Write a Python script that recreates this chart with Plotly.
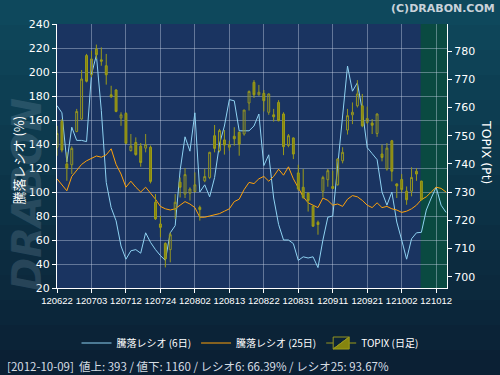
import plotly.graph_objects as go

# ---------------- data ----------------
dates = [
    "120622", "120625", "120626", "120627", "120628", "120629",
    "120702", "120703", "120704", "120705", "120706", "120709", "120710", "120711",
    "120712", "120713", "120717", "120718", "120719", "120720", "120723", "120724",
    "120725", "120726", "120727", "120730", "120731",
    "120801", "120802", "120803", "120806", "120807", "120808", "120809", "120810",
    "120813", "120814", "120815", "120816", "120817", "120820", "120821", "120822",
    "120823", "120824", "120827", "120828", "120829", "120830", "120831",
    "120903", "120904", "120905", "120906", "120907", "120910", "120911", "120912",
    "120913", "120914", "120918", "120919", "120920", "120921", "120924", "120925",
    "120926", "120927", "120928",
    "121001", "121002", "121003", "121004", "121005", "121009", "121010", "121011",
    "121012", "121015", "121016",
]

tick_labels = ["120622", "120703", "120712", "120724", "120802", "120813",
               "120822", "120831", "120911", "120921", "121002", "121012"]

ratio6 = [172, 166, 125, 154, 143, 143, 142, 198, 214, 168,
          108, 87, 76, 55, 44, 51, 52, 49, 66, 58,
          52, 47, 43, 66, 72, 118, 146, 134, 166, 100,
          106, 96, 112, 140, 155, 177, 176, 151, 151, 151,
          155, 165, 122, 131, 95, 73, 60, 60, 57, 43,
          46, 45, 46, 37, 60, 79, 80, 123, 160, 205,
          184, 191, 168, 137, 132, 127, 100, 89, 100, 75,
          60, 44, 61, 66, 66.39, 85, 95, 104, 89, 83]

ratio25 = [111, 106, 101, 113, 118, 123, 126, 128, 130, 129,
           131, 136, 123, 115, 104, 109, 104, 100, 104, 99,
           94, 88, 86, 85, 86, 89, 92, 90, 87, 79,
           79, 80, 81, 82, 84, 86, 92, 94, 102, 108,
           107, 111, 113, 109, 113, 119, 114, 121, 111, 104,
           96, 91, 89, 87, 95, 93, 89, 90, 88, 94,
           97, 96, 93, 89, 87, 91, 87, 88, 86, 85,
           83, 84, 86, 89, 93.67, 96, 100, 104, 103, 100]

topix_open = [745.9, 755.1, 740.0, 739.7, 751.5, 755.9, 778.4, 771.6, 780.7, 776.9,
              774.8, 764.5, 766.2, 756.3, 757.9, 744.7, 747.6, 746.3, 745.6, 745.9,
              726.4, 718.7, 711.8, 709.6, 723.7, 733.5, 729.3, 729.6, 730.2, 724.6,
              734.0, 735.2, 750.0, 744.7, 748.5, 745.9, 749.8, 751.2, 750.6, 761.6,
              768.9, 764.5, 765.0, 758.3, 757.4, 761.8, 757.7, 746.5, 749.2, 736.8,
              731.7, 729.6, 725.0, 719.3, 730.3, 734.4, 732.0, 732.6, 741.1, 752.0,
              757.4, 760.6, 760.6, 754.7, 754.5, 750.8, 743.5, 738.2, 748.2, 732.9,
              734.5, 730.3, 730.3, 737.4, 733.9]
topix_high = [753.5, 755.9, 744.1, 746.2, 759.5, 773.3, 779.0, 780.1, 782.3, 781.3,
              779.0, 767.7, 766.5, 758.3, 758.3, 750.6, 749.4, 747.4, 750.6, 746.5,
              729.3, 721.6, 712.2, 715.7, 729.3, 735.2, 738.5, 731.7, 737.0, 725.2,
              738.2, 744.3, 753.8, 752.4, 752.0, 748.2, 753.0, 751.5, 759.1, 766.0,
              769.7, 768.0, 766.2, 765.0, 759.5, 762.6, 758.3, 750.6, 749.4, 739.7,
              738.2, 729.9, 725.2, 719.9, 735.8, 738.2, 737.6, 742.1, 745.9, 759.5,
              761.8, 769.7, 764.8, 760.3, 755.9, 757.9, 746.8, 747.4, 748.5, 733.1,
              736.4, 732.0, 738.8, 738.5, 734.0]
topix_low = [742.9, 744.1, 734.0, 736.4, 751.2, 755.6, 768.9, 770.7, 777.2, 774.8,
             768.1, 763.4, 758.3, 753.5, 747.0, 744.4, 742.9, 739.0, 744.1, 733.1,
             720.1, 714.0, 703.3, 705.1, 720.5, 728.1, 727.9, 727.0, 729.9, 719.9,
             733.5, 734.6, 744.1, 744.1, 743.3, 744.7, 746.5, 742.9, 750.0, 758.9,
             763.4, 764.2, 758.6, 757.4, 755.0, 755.1, 743.1, 745.9, 741.7, 730.5,
             727.6, 723.1, 717.7, 714.9, 728.1, 731.9, 731.1, 732.3, 740.2, 750.4,
             754.1, 760.0, 753.0, 754.1, 750.6, 749.6, 740.9, 737.6, 733.8, 727.9,
             729.9, 725.5, 728.5, 734.0, 727.0]
topix_close = [750.8, 744.9, 738.5, 745.5, 758.6, 770.1, 769.3, 777.2, 778.7, 776.4,
               771.6, 763.8, 758.6, 757.4, 747.3, 746.3, 743.3, 740.5, 746.8, 733.8,
               720.5, 717.5, 706.3, 714.9, 726.4, 731.7, 736.2, 731.1, 732.6, 723.8,
               735.5, 744.1, 745.5, 751.8, 746.7, 746.8, 748.9, 747.0, 759.1, 765.7,
               764.5, 765.4, 762.4, 764.8, 756.7, 755.3, 746.1, 750.0, 743.5, 731.1,
               728.1, 727.0, 717.9, 718.5, 735.2, 737.6, 731.3, 741.7, 744.1, 757.1,
               758.3, 764.8, 753.5, 756.1, 753.7, 757.7, 742.3, 745.6, 737.4, 732.2,
               730.9, 727.3, 735.2, 736.4, 727.3]

status_text = "[2012-10-09]  値上: 393 / 値下: 1160 / レシオ6: 66.39% / レシオ25: 93.67%"

# ---------------- layout geometry ----------------
W, H = 500, 375
ML, MR, MT, MB = 57, 53, 24, 87
PW, PH = W - ML - MR, H - MT - MB


def px(xp):
    return (xp - ML) / PW


def py(yp):
    return (H - MB - yp) / PH


FONT = "DejaVu Sans"
CJK = "Noto Sans CJK JP"

fig = go.Figure()

fig.add_trace(go.Candlestick(
    x=dates[:len(topix_open)], open=topix_open, high=topix_high,
    low=topix_low, close=topix_close, name="TOPIX (日足)",
    xaxis="x", yaxis="y2", legendrank=3, whiskerwidth=0,
    increasing=dict(line=dict(color="#959520", width=1), fillcolor="rgba(0,0,0,0)"),
    decreasing=dict(line=dict(color="#9c9c18", width=1), fillcolor="#85850f"),
))
fig.add_trace(go.Scatter(
    x=dates, y=ratio6, mode="lines", name="騰落レシオ (6日)",
    line=dict(color="#8ed2f2", width=1), legendrank=1,
))
fig.add_trace(go.Scatter(
    x=dates, y=ratio25, mode="lines", name="騰落レシオ (25日)",
    line=dict(color="#ffa20a", width=1), legendrank=2,
))

# background gradient (paper)
top_c = (14, 72, 92)
bot_c = (11, 32, 52)
n = 15
for k in range(n):
    t = k / (n - 1)
    c = tuple(int(round(top_c[j] + (bot_c[j] - top_c[j]) * t)) for j in range(3))
    fig.add_shape(type="rect", xref="paper", yref="paper",
                  x0=px(0), x1=px(W), y0=py((k + 1) * 25 + 1), y1=py(k * 25),
                  fillcolor="rgb(%d,%d,%d)" % c, line_width=0, layer="below")

# plot area background
fig.add_shape(type="rect", xref="x domain", yref="y domain", x0=0, x1=1, y0=0, y1=1,
              fillcolor="#1a3461", line_width=0, layer="below")
# green zone
fig.add_shape(type="rect", xref="x", yref="y domain", x0=73.85, x1=79.2, y0=0, y1=1,
              fillcolor="#0a4a41", line_width=0, layer="below")

grid_c = "rgba(200,212,232,0.42)"

fig.update_layout(
    width=W, height=H, autosize=False,
    margin=dict(l=ML, r=MR, t=MT, b=MB, pad=0),
    paper_bgcolor="#0c2c42", plot_bgcolor="#1a3461",
    showlegend=True, boxgap=0.45,
    legend=dict(orientation="h", x=px(250), xanchor="center", y=py(343), yanchor="middle",
                bgcolor="rgba(0,0,0,0)", font=dict(family=CJK, size=10, color="#ffffff"),
                itemwidth=30, traceorder="normal"),
    xaxis=dict(type="category", categoryorder="array", categoryarray=dates,
               range=[0, 79.2], tickmode="array", tickvals=tick_labels, ticktext=tick_labels,
               showgrid=True, gridcolor=grid_c, gridwidth=1,
               showline=True, linecolor="#ffffff", linewidth=1,
               ticks="outside", ticklen=4, tickcolor="#ffffff", tickangle=0,
               tickfont=dict(family="Liberation Sans", size=9.5, color="#ffffff"),
               rangeslider=dict(visible=False), automargin=False, fixedrange=True),
    yaxis=dict(range=[20, 240], tick0=20, dtick=20, showgrid=True, gridcolor=grid_c,
               gridwidth=1, zeroline=False, showline=True, linecolor="#ffffff", linewidth=1,
               ticks="outside", ticklen=4, tickcolor="#ffffff",
               tickfont=dict(family=FONT, size=11, color="#ffffff"), automargin=False),
    yaxis2=dict(range=[696.0, 789.6], overlaying="y", side="right",
                tickvals=[700, 710, 720, 730, 740, 750, 760, 770, 780],
                showgrid=False, zeroline=False, showline=True, linecolor="#ffffff",
                linewidth=1, ticks="outside", ticklen=4, tickcolor="#ffffff",
                tickfont=dict(family=FONT, size=11, color="#ffffff"), automargin=False),
)

annotations = [
    dict(text="<b><i>DRABON</i></b>", x=px(27), y=py(195), xref="paper", yref="paper",
         showarrow=False, textangle=-90, xanchor="center", yanchor="middle",
         font=dict(family=FONT, size=40, color="rgba(120,150,170,0.25)")),
    dict(text="騰落レシオ (%)", x=px(17.5), y=py(160), xref="paper", yref="paper",
         showarrow=False, textangle=-90, xanchor="center", yanchor="middle",
         font=dict(family=CJK, size=13, color="#ffffff")),
    dict(text="TOPIX (Pt)", x=px(487), y=py(152), xref="paper", yref="paper",
         showarrow=False, textangle=90, xanchor="center", yanchor="middle",
         font=dict(family=FONT, size=12.5, color="#ffffff")),
    dict(text="<b>(C)DRABON.COM</b>", x=px(497), y=py(8), xref="paper", yref="paper",
         showarrow=False, xanchor="right", yanchor="middle",
         font=dict(family=FONT, size=11, color="#c9d2da")),
    dict(text=status_text, x=px(5), y=py(366), xref="paper", yref="paper",
         showarrow=False, xanchor="left", yanchor="middle",
         font=dict(family=CJK, size=11.5, color="#d6dde4")),
]
fig.update_layout(annotations=annotations)

fig.write_html("out.html", config={"displayModeBar": False},
               post_script="document.body.style.margin='0';document.body.style.padding='0';")
